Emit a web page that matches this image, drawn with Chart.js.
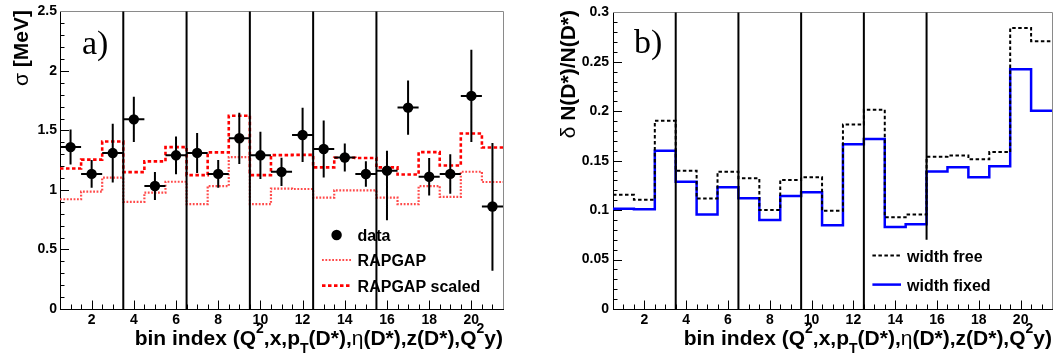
<!DOCTYPE html>
<html><head><meta charset="utf-8">
<script src="https://cdn.jsdelivr.net/npm/chart.js@4.4.1/dist/chart.umd.min.js"></script>
<style>
html,body{margin:0;padding:0;background:#fff;}
#wrap{position:relative;width:1062px;height:356px;overflow:hidden;}
canvas{position:absolute;top:0;}
</style></head><body>
<div id="wrap">
<canvas id="cA" width="531" height="356" style="left:0"></canvas>
<canvas id="cB" width="531" height="356" style="left:531px"></canvas>
</div>
<script>
// ---------------- data ----------------
const binIndex = [1,2,3,4,5,6,7,8,9,10,11,12,13,14,15,16,17,18,19,20,21];
const xTickValues = [2,4,6,8,10,12,14,16,18,20];
const separators = [3.5,6.5,9.5,12.5,15.5];
const separatorsLowB = [0,0,0,0,0.07];
const sigmaTicks = [0,0.5,1,1.5,2,2.5];
const fracTicks = [0,0.05,0.1,0.15,0.2,0.25,0.3];

const sigmaData    = [1.36,1.135,1.31,1.593,1.033,1.291,1.311,1.135,1.434,1.291,1.152,1.462,1.344,1.273,1.134,1.162,1.692,1.111,1.135,1.79,0.861];
const sigmaErrUp   = [0.147,0.117,0.247,0.19,0.117,0.158,0.168,0.116,0.215,0.199,0.118,0.228,0.239,0.117,0.108,0.168,0.228,0.158,0.166,0.388,0.533];
const sigmaErrDown = [0.147,0.117,0.247,0.19,0.117,0.158,0.168,0.116,0.215,0.199,0.118,0.228,0.239,0.117,0.108,0.417,0.228,0.158,0.166,0.388,0.54];
const rapgap       = [0.922,0.986,1.103,0.90,0.978,1.069,0.881,1.033,1.275,0.881,1.011,1.008,0.936,0.997,0.997,0.936,0.881,1.033,0.942,1.153,1.067];
const rapgapScaled = [1.18,1.255,1.407,1.15,1.24,1.36,1.125,1.316,1.624,1.125,1.293,1.295,1.19,1.271,1.268,1.19,1.13,1.318,1.205,1.474,1.357];

const widthFree  = [0.1155,0.1105,0.1905,0.1398,0.1118,0.1388,0.1322,0.1001,0.1305,0.1332,0.0993,0.1866,0.2016,0.0928,0.0955,0.1539,0.1553,0.1514,0.1587,0.2843,0.2708];
const widthFixed = [0.1015,0.101,0.16,0.1288,0.0955,0.1232,0.1121,0.0901,0.1143,0.1181,0.0846,0.1666,0.172,0.0829,0.0858,0.139,0.1433,0.1332,0.1445,0.2426,0.2004];

const legendA = ['data','RAPGAP','RAPGAP scaled'];
const legendB = ['width free','width fixed'];
const panelLabels = ['a)','b)'];
const xTitle = [{t:'bin index (Q'},{t:'2',sup:true},{t:',x,p'},{t:'T',sub:true},{t:'(D*),'},{t:'\u03b7',greek:true},{t:'(D*),z(D*),Q'},{t:'2',sup:true},{t:'y)'}];
const yTitleA = [{t:'\u03c3',greek:true},{t:' [MeV]'}];
const yTitleB = [{t:'\u03b4',greek:true},{t:' N(D*)/N(D*)'}];

// ---------------- helpers ----------------
const FONT = '"Liberation Sans", Arial, Helvetica, sans-serif';
function stepPoints(vals){
  const pts = vals.map((v,i)=>({x: binIndex[i]-0.5, y: v}));
  pts.push({x: binIndex[binIndex.length-1]+0.5, y: vals[vals.length-1]});
  return pts;
}
function segFont(s,size){
  const fs = (s.sup||s.sub) ? Math.round(size*0.68) : size;
  return (s.greek ? 'normal ' : 'bold ') + fs + 'px ' + FONT;
}
function drawRich(ctx, segs, x, y, size, rotate){
  ctx.save();
  ctx.translate(x,y);
  if (rotate) ctx.rotate(-Math.PI/2);
  const widths = segs.map(s=>{ctx.font=segFont(s,size);return ctx.measureText(s.t).width;});
  const total = widths.reduce((a,b)=>a+b,0);
  let cx = -total;
  ctx.textAlign='left'; ctx.textBaseline='alphabetic'; ctx.fillStyle='#000';
  segs.forEach((s,i)=>{
    ctx.font=segFont(s,size);
    const dy = s.sup ? -0.55*size : (s.sub ? 0.4*size : 0);
    ctx.fillText(s.t, cx, dy);
    cx += widths[i];
  });
  ctx.restore();
}
function drawFrameTicks(chart, yMinor, yN){
  const {ctx, chartArea:a, scales:{x,y}} = chart;
  ctx.save();
  ctx.strokeStyle='#000'; ctx.lineWidth=1;
  ctx.beginPath();
  for (let k=1; k<=42; k++){
    const v = 0.5 + k*0.5;
    const px = Math.round(x.getPixelForValue(v))+0.5;
    const major = (k%4===3);
    ctx.moveTo(px, a.bottom); ctx.lineTo(px, a.bottom-(major?8.5:4.5));
  }
  for (let k=1; k<=yN; k++){
    const py = Math.round(y.getPixelForValue(k*yMinor))+0.5;
    const major = (k%5===0);
    ctx.moveTo(a.left, py); ctx.lineTo(a.left+(major?9:4.5), py);
  }
  ctx.stroke();
  ctx.strokeStyle='#8a8a8a';
  ctx.beginPath();
  ctx.moveTo(a.left, Math.round(a.top)+0.5); ctx.lineTo(Math.round(a.right)+0.5, Math.round(a.top)+0.5);
  ctx.lineTo(Math.round(a.right)+0.5, a.bottom);
  ctx.stroke();
  ctx.restore();
}
function drawSeparators(chart, lows){
  const {ctx, chartArea:a, scales:{x,y}} = chart;
  ctx.save(); ctx.strokeStyle='#000'; ctx.lineWidth=2;
  ctx.beginPath();
  separators.forEach((s,i)=>{
    const px = x.getPixelForValue(s);
    const yl = lows ? y.getPixelForValue(lows[i]) : a.bottom;
    ctx.moveTo(px, a.top); ctx.lineTo(px, yl);
  });
  ctx.stroke(); ctx.restore();
}
function drawLegendLine(ctx, ds, x1, x2, yy){
  ctx.save();
  ctx.strokeStyle=ds.borderColor; ctx.lineWidth=ds.borderWidth;
  ctx.setLineDash(ds.borderDash||[]);
  ctx.beginPath(); ctx.moveTo(x1,yy); ctx.lineTo(x2,yy); ctx.stroke();
  ctx.restore();
}
function legendText(ctx, t, x, yBase){
  ctx.save(); ctx.fillStyle='#000'; ctx.font='bold 16px '+FONT;
  ctx.textAlign='left'; ctx.textBaseline='alphabetic';
  ctx.fillText(t, x, yBase); ctx.restore();
}
function panelLabel(ctx, t, x, yBase){
  ctx.save(); ctx.fillStyle='#000'; ctx.font='34px "Liberation Serif", "Times New Roman", serif';
  ctx.textAlign='left'; ctx.textBaseline='alphabetic';
  ctx.fillText(t, x, yBase); ctx.restore();
}

function axisCfg(min, max, ticksArr, fitProp, fitVal, pad){
  return {
    type:'linear', min:min, max:max,
    grid:{display:false, drawTicks:false},
    border:{display:true, color:'#000', width:1},
    afterBuildTicks: sc => { sc.ticks = ticksArr.map(v=>({value:v})); },
    afterFit: sc => { sc[fitProp] = fitVal; },
    ticks:{color:'#000', padding:pad, autoSkip:false, maxRotation:0,
      font:{family:FONT, size:14, weight:'bold'},
      callback: v => String(+v.toFixed(3))}
  };
}

// ---------------- chart a) ----------------
const dsA = [
  {type:'scatter', label:legendA[0], data: binIndex.map((b,i)=>({x:b,y:sigmaData[i]})),
   pointRadius:5.2, pointHoverRadius:5.2, pointBackgroundColor:'#000', pointBorderColor:'#000', pointBorderWidth:0, showLine:false},
  {type:'line', label:legendA[1], data: stepPoints(rapgap), stepped:true, pointRadius:0,
   borderColor:'#ff4a4a', borderWidth:2.2, borderDash:[1.8,1.6], fill:false},
  {type:'line', label:legendA[2], data: stepPoints(rapgapScaled), stepped:true, pointRadius:0,
   borderColor:'#ff0000', borderWidth:2.6, borderDash:[3.5,2.5], fill:false}
];
const pluginA = {
  id:'rootA',
  beforeDatasetsDraw(chart){ drawFrameTicks(chart, 0.1, 25); },
  beforeDatasetDraw(chart, args){
    if (args.index!==0) return;
    const {ctx, scales:{x,y}} = chart;
    ctx.save(); ctx.strokeStyle='#000'; ctx.lineWidth=2; ctx.beginPath();
    binIndex.forEach((b,i)=>{
      const px = x.getPixelForValue(b), py = y.getPixelForValue(sigmaData[i]);
      ctx.moveTo(px, y.getPixelForValue(sigmaData[i]+sigmaErrUp[i]));
      ctx.lineTo(px, y.getPixelForValue(sigmaData[i]-sigmaErrDown[i]));
      ctx.moveTo(x.getPixelForValue(b-0.5), py);
      ctx.lineTo(x.getPixelForValue(b+0.5), py);
    });
    ctx.stroke(); ctx.restore();
  },
  afterDatasetsDraw(chart){ drawSeparators(chart, null); },
  afterDraw(chart){
    const ctx = chart.ctx, a = chart.chartArea;
    drawRich(ctx, xTitle, a.right, 345, 21, false);
    drawRich(ctx, yTitleA, 28, 10, 21, true);
    ctx.save(); ctx.fillStyle='#000'; ctx.beginPath(); ctx.arc(336.6,235,5.2,0,Math.PI*2); ctx.fill(); ctx.restore();
    legendText(ctx, legendA[0], 357.6, 241);
    drawLegendLine(ctx, chart.data.datasets[1], 322, 351, 260);
    legendText(ctx, legendA[1], 357.6, 266);
    drawLegendLine(ctx, chart.data.datasets[2], 322, 351, 285.6);
    legendText(ctx, legendA[2], 357.6, 292);
    panelLabel(ctx, panelLabels[0], 82, 54);
  }
};
new Chart(document.getElementById('cA'), {
  data:{datasets:dsA},
  options:{
    responsive:false, devicePixelRatio:1, animation:false, events:[],
    layout:{padding:{left:0,right:28,top:9,bottom:0}},
    plugins:{legend:{display:false}, tooltip:{enabled:false}},
    scales:{
      x: axisCfg(0.5, 21.5, xTickValues, 'height', 47, 3),
      y: axisCfg(0, 2.5, sigmaTicks, 'width', 60, 3)
    }
  },
  plugins:[pluginA]
});

// ---------------- chart b) ----------------
const dsB = [
  {type:'line', label:legendB[0], data: stepPoints(widthFree), stepped:true, pointRadius:0,
   borderColor:'#000', borderWidth:2, borderDash:[3.5,2.5], fill:false},
  {type:'line', label:legendB[1], data: stepPoints(widthFixed), stepped:true, pointRadius:0,
   borderColor:'#0000ff', borderWidth:2.5, fill:false}
];
const pluginB = {
  id:'rootB',
  beforeDatasetsDraw(chart){ drawFrameTicks(chart, 0.01, 30); },
  afterDatasetsDraw(chart){ drawSeparators(chart, separatorsLowB); },
  afterDraw(chart){
    const ctx = chart.ctx, a = chart.chartArea;
    drawRich(ctx, xTitle, a.right, 345, 21, false);
    drawRich(ctx, yTitleB, 44, 10, 21, true);
    drawLegendLine(ctx, chart.data.datasets[0], 341.4, 370, 255.5);
    legendText(ctx, legendB[0], 376, 262);
    drawLegendLine(ctx, chart.data.datasets[1], 341.4, 370, 284.6);
    legendText(ctx, legendB[1], 376, 291);
    panelLabel(ctx, panelLabels[1], 103, 53);
  }
};
new Chart(document.getElementById('cB'), {
  data:{datasets:dsB},
  options:{
    responsive:false, devicePixelRatio:1, animation:false, events:[],
    layout:{padding:{left:0,right:10,top:9,bottom:0}},
    plugins:{legend:{display:false}, tooltip:{enabled:false}},
    scales:{
      x: axisCfg(0.5, 21.5, xTickValues, 'height', 47, 3),
      y: axisCfg(0, 0.3, fracTicks, 'width', 82, 4)
    }
  },
  plugins:[pluginB]
});
</script>
</body></html>
